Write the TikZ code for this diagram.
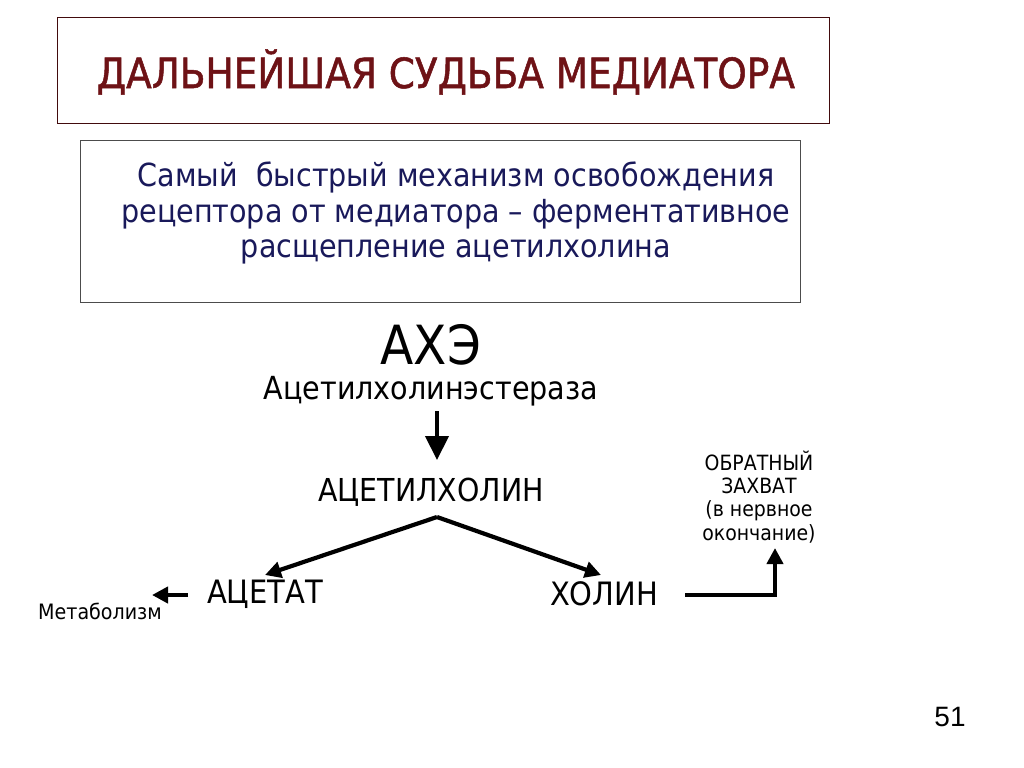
\documentclass[tikz,border=0pt]{standalone}
\usepackage{fontspec}
\setmainfont{DejaVu Sans Condensed}
\setsansfont{Liberation Sans}
\newfontfamily\titlefont{DejaVu Sans Condensed}[FakeBold=1.2]
\usetikzlibrary{positioning,arrows.meta}
\definecolor{titlered}{RGB}{110,18,22}
\definecolor{textblue}{RGB}{25,25,90}

\begin{document}
\begin{tikzpicture}[x=0.5pt, y=-0.5pt,
	boxstyle/.style={draw, thin, minimum width=#1, inner sep=0pt},
	arr/.style={line width=2.1pt, -{Triangle[length=8pt, width=8pt]}}
	]
	\useasboundingbox (0,0) rectangle (1024,767);

	\node[boxstyle=386pt, draw=titlered!60!black, minimum height=53pt] (b1) at (443,70) {};
	\node[boxstyle=360pt, draw=gray!60!black, minimum height=81pt] (b2) at (440,221) {};

	\node[text=titlered, font=\titlefont\fontsize{20.8}{23}\selectfont] (title) at (446,72) {ДАЛЬНЕЙШАЯ СУДЬБА МЕДИАТОРА};
	\node[text=textblue, align=center, font=\fontsize{15.9}{17.6}\selectfont] (desc) at (456,213)
	{Самый~ быстрый механизм освобождения\\рецептора от медиатора – ферментативное\\расщепление ацетилхолина};

	\node[font=\fontsize{27}{29}\selectfont] (ache) at (431,345) {АХЭ};
	\node[font=\fontsize{15.9}{17}\selectfont] (enz) at (431,391) {Ацетилхолинэстераза};
	\node[font=\fontsize{15.8}{17}\selectfont] (ach) at (431,492) {АЦЕТИЛХОЛИН};
	\node[font=\fontsize{16.1}{17}\selectfont] (acet) at (265,594) {АЦЕТАТ};
	\node[font=\fontsize{16.1}{17}\selectfont] (chol) at (604,594) {ХОЛИН};
	\node[font=\fontsize{10.6}{12}\selectfont] (metab) at (100,611) {Метаболизм};
	\node[align=center, font=\fontsize{10.5}{11.6}\selectfont] (uptake) at (759,497)
	{ОБРАТНЫЙ\\ЗАХВАТ\\(в нервное\\окончание)};
	\node[font=\sffamily\fontsize{14}{16}\selectfont] (page) at (950,717) {51};

	\coordinate (apex) at (437,517);
	\draw[line width=2.1pt, -{Triangle[length=12pt, width=11.5pt]}] (437,411) -- (437,460);
	\draw[arr] (apex) -- (265,575);
	\draw[arr] (apex) -- (601,575);
	\draw[arr] (acet.west) ++(-12,1) -- (152,595);
	\draw[arr] (chol.east) ++(20,1) -| (775,548);
\end{tikzpicture}
\end{document}
